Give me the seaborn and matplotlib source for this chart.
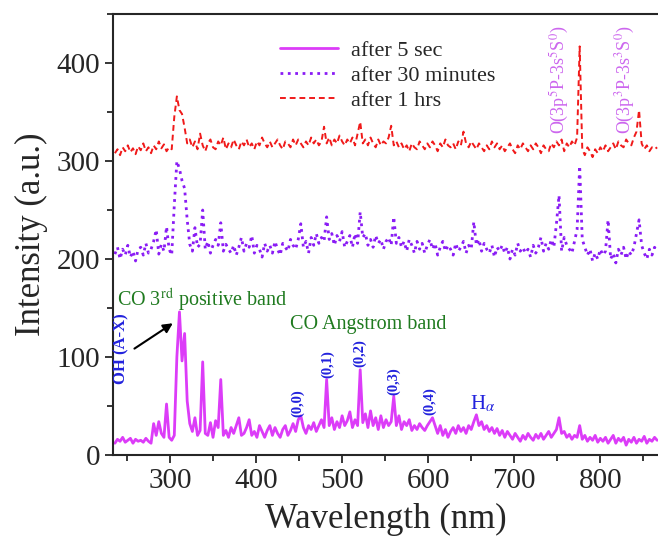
import numpy as np
import pandas as pd
import seaborn as sns
import matplotlib.pyplot as plt
from matplotlib.ticker import MultipleLocator

# wavelength grid (nm), 3 nm step
wavelength = np.arange(236, 867, 3)

after_5_sec = [
    12, 16, 14, 18, 13, 15, 17, 12, 16, 14,
    15, 13, 17, 14, 12, 32, 20, 34, 22, 18,
    52, 18, 15, 20, 100, 146, 96, 124, 55, 32,
    24, 38, 20, 25, 95, 22, 20, 33, 18, 35,
    28, 77, 20, 25, 18, 28, 22, 30, 38, 20,
    22, 28, 36, 20, 24, 18, 30, 24, 18, 25,
    30, 20, 28, 22, 18, 26, 30, 20, 25, 32,
    24, 36, 40, 28, 22, 30, 26, 33, 24, 30,
    36, 28, 77, 30, 38, 26, 34, 28, 40, 30,
    35, 44, 28, 36, 30, 87, 33, 42, 28, 45,
    30, 38, 26, 40, 28, 36, 30, 34, 60, 30,
    40, 26, 34, 30, 36, 25, 30, 26, 32, 28,
    25, 30, 34, 38, 30, 22, 30, 20, 26, 18,
    24, 28, 22, 30, 24, 28, 22, 30, 26, 34,
    41, 30, 34, 26, 30, 24, 28, 22, 27, 20,
    25, 18, 24, 20, 16, 22, 18, 14, 20, 16,
    22, 18, 15, 21, 17, 22, 16, 20, 24, 18,
    22, 26, 38, 22, 24, 18, 21, 16, 20, 18,
    30, 16, 20, 14, 18, 15, 20, 13, 17, 14,
    18, 12, 16, 20, 12, 17, 14, 18, 10, 16,
    13, 18, 12, 16, 14, 19, 12, 16, 14, 18,
    15,
]

after_30_min = [
    205, 212, 200, 210, 204, 214, 202, 208, 198, 210,
    212, 204, 216, 206, 210, 218, 230, 205, 215, 208,
    233, 210, 204, 255, 300, 292, 280, 272, 240, 215,
    208, 232, 212, 215, 250, 210, 218, 206, 214, 220,
    214, 237, 208, 215, 210, 206, 214, 204, 212, 222,
    208, 216, 212, 224, 206, 214, 210, 202, 216, 208,
    214, 206, 218, 210, 204, 216, 212, 208, 220, 214,
    210, 220, 236, 212, 218, 206, 222, 214, 226, 216,
    222, 218, 243, 220, 226, 214, 224, 218, 228, 212,
    218, 224, 212, 226, 216, 248, 222, 226, 214, 220,
    212, 224, 216, 220, 210, 218, 222, 214, 243, 216,
    222, 212, 218, 208, 220, 214, 206, 218, 210, 216,
    206, 214, 220, 210, 216, 204, 212, 218, 208, 214,
    210, 204, 216, 208, 212, 218, 206, 214, 210, 238,
    214, 220, 208, 216, 210, 206, 214, 202, 212, 208,
    214, 206, 212, 200, 210, 204, 216, 208, 212, 206,
    210, 202, 214, 206, 212, 222, 208, 216, 210, 220,
    212, 236, 265, 208, 222, 214, 210, 206, 218, 230,
    295, 220, 212, 204, 210, 198, 206, 200, 210, 204,
    208, 240, 200, 206, 196, 210, 204, 212, 200, 208,
    204, 212, 226, 240, 214, 206, 200, 210, 204, 212,
    208,
]

after_1_hrs = [
    308, 312, 306, 314, 310, 316, 309, 313, 307, 315,
    311, 318, 310, 314, 308, 316, 312, 320, 313, 317,
    310, 314, 312, 345, 366, 352, 348, 334, 318, 322,
    314, 320, 312, 328, 316, 310, 318, 322, 314, 312,
    320, 316, 324, 312, 318, 314, 322, 316, 312, 320,
    316, 322, 314, 318, 312, 320, 316, 324, 318, 314,
    320, 314, 318, 322, 316, 312, 320, 318, 314, 322,
    316, 322, 318, 314, 320, 316, 324, 318, 322, 316,
    320, 335, 318, 324, 316, 322, 318, 326, 320, 316,
    322, 318, 324, 316, 328, 340, 318, 322, 316, 324,
    318, 314, 322, 316, 320, 318, 324, 336, 316, 320,
    314, 318, 312, 316, 310, 318, 314, 312, 320, 316,
    312, 318, 314, 320, 316, 310, 318, 314, 322, 316,
    314, 318, 312, 320, 316, 330, 318, 314, 320, 316,
    312, 318, 314, 310, 316, 312, 320, 314, 318, 312,
    316, 310, 314, 318, 312, 308, 316, 312, 318, 314,
    310, 316, 312, 318, 314, 308, 316, 312, 310, 318,
    314, 320, 316, 322, 310, 318, 314, 320, 316, 324,
    417, 312, 306, 314, 310, 304, 312, 308, 314, 310,
    316, 310, 314, 318, 312, 320, 316, 314, 322, 318,
    316, 324, 330, 352, 318, 312, 316, 310, 314, 312,
    314,
]

band_labels = ["(0,0)", "(0,1)", "(0,2)", "(0,3)", "(0,4)"]
band_x = [448, 483, 520, 560, 602]
band_y = [39, 79, 90, 61, 41]

df = pd.DataFrame({
    "wl": wavelength,
    "s5": after_5_sec,
    "s30": after_30_min,
    "s1h": after_1_hrs,
})

sns.set_style("ticks")
plt.rcParams["font.family"] = ["Liberation Serif", "DejaVu Serif"]
plt.rcParams["mathtext.fontset"] = "stix"

fig = plt.figure(figsize=(6.58, 5.41), dpi=100)
ax = fig.add_axes([0.172, 0.159, 0.828, 0.815])

sns.lineplot(data=df, x="wl", y="s5", ax=ax, color="#dc3cf8", lw=2.0,
             label="after 5 sec")
sns.lineplot(data=df, x="wl", y="s30", ax=ax, color="#8a1cf5", lw=2.0,
             linestyle=":", label="after 30 minutes")
sns.lineplot(data=df, x="wl", y="s1h", ax=ax, color="#f01a1a", lw=1.4,
             linestyle="--", label="after 1 hrs")
ax.lines[-1].set_dashes([3, 2])

ax.set_xlim(234, 867)
ax.set_ylim(0, 450)
ax.xaxis.set_major_locator(MultipleLocator(100))
ax.xaxis.set_minor_locator(MultipleLocator(50))
ax.yaxis.set_major_locator(MultipleLocator(100))
ax.yaxis.set_minor_locator(MultipleLocator(50))
ax.tick_params(which="both", direction="out", width=1.3, labelsize=21)
ax.tick_params(which="major", length=6)
ax.tick_params(which="minor", length=4)
ax.spines["right"].set_visible(False)
for s in ["left", "bottom", "top"]:
    ax.spines[s].set_linewidth(1.5)

ax.set_xlabel("Wavelength (nm)", fontsize=25, labelpad=6)
ax.set_ylabel("Intensity (a.u.)", fontsize=25, labelpad=6)

ax.legend(loc="upper left", bbox_to_anchor=(0.27, 0.985), frameon=False,
          fontsize=16, handlelength=2.6, labelspacing=0.2, handletextpad=0.6)

green = "#1f7a1f"
blue = "#2222dd"
ax.text(238, 158, "CO 3$^{\\mathrm{rd}}$ positive band", color=green,
        fontsize=14.5, va="center", ha="left")
ax.text(440, 133, "CO Angstrom band", color=green, fontsize=14.5,
        va="center", ha="left")
ax.text(244, 109, "OH (A-X)", color=blue, fontsize=12, fontweight="bold",
        rotation=90, va="center", ha="center")
ax.annotate("", xy=(306, 136), xytext=(256, 107),
            arrowprops=dict(arrowstyle="-|>", color="black", lw=1.5,
                            mutation_scale=14))
for lab, bx, by in zip(band_labels, band_x, band_y):
    ax.text(bx, by, lab, color=blue, fontsize=10.5, fontweight="bold",
            rotation=90, va="bottom", ha="center")
ax.text(663, 52, "H$_\\alpha$", color=blue, fontsize=15, va="center",
        ha="center")
ax.text(753, 328, "O(3p$^5$P-3s$^5$S$^0$)", color="#cc66ee", fontsize=13,
        rotation=90, va="bottom", ha="center")
ax.text(829, 328, "O(3p$^3$P-3s$^3$S$^0$)", color="#cc66ee", fontsize=13,
        rotation=90, va="bottom", ha="center")

fig.savefig("out.png", dpi=100)
